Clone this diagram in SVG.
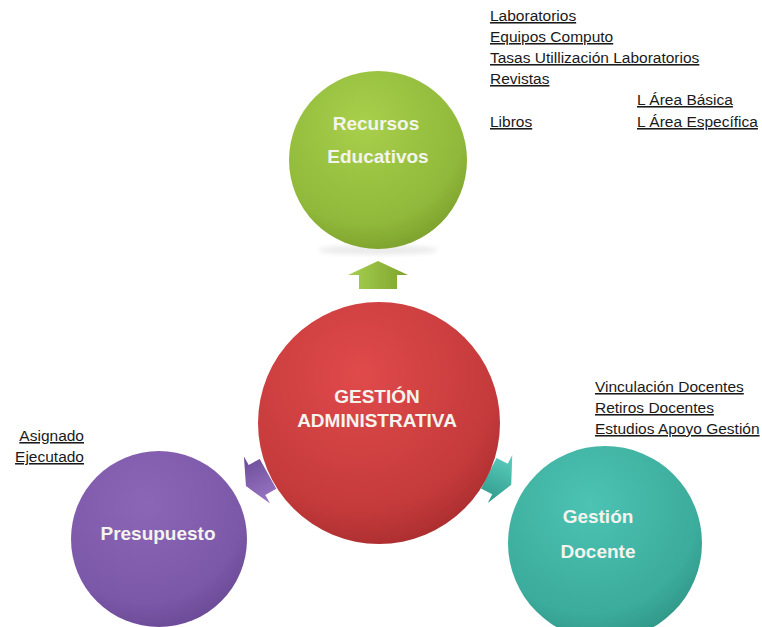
<svg xmlns="http://www.w3.org/2000/svg" width="762" height="627" viewBox="0 0 762 627">
  <defs>
    <radialGradient id="gGreen" cx="0.42" cy="0.3" r="0.75">
      <stop offset="0" stop-color="#a8d04c"/>
      <stop offset="0.75" stop-color="#90b83a"/>
      <stop offset="1" stop-color="#7a9e2c"/>
    </radialGradient>
    <radialGradient id="gRed" cx="0.42" cy="0.3" r="0.75">
      <stop offset="0" stop-color="#e04a4b"/>
      <stop offset="0.75" stop-color="#c43a3b"/>
      <stop offset="1" stop-color="#a82c2e"/>
    </radialGradient>
    <radialGradient id="gPurple" cx="0.42" cy="0.3" r="0.75">
      <stop offset="0" stop-color="#8c66b6"/>
      <stop offset="0.75" stop-color="#7c58a8"/>
      <stop offset="1" stop-color="#684894"/>
    </radialGradient>
    <radialGradient id="gTeal" cx="0.42" cy="0.3" r="0.75">
      <stop offset="0" stop-color="#4cc3b3"/>
      <stop offset="0.75" stop-color="#3cac9c"/>
      <stop offset="1" stop-color="#2e9486"/>
    </radialGradient>
    <linearGradient id="aGreen" x1="0" y1="0" x2="0" y2="1">
      <stop offset="0" stop-color="#a6d050"/>
      <stop offset="1" stop-color="#7fa32e"/>
    </linearGradient>
    <linearGradient id="aPurple" x1="0" y1="0" x2="0" y2="1">
      <stop offset="0" stop-color="#9b78c4"/>
      <stop offset="1" stop-color="#6a4a98"/>
    </linearGradient>
    <linearGradient id="aTeal" x1="0" y1="0" x2="0" y2="1">
      <stop offset="0" stop-color="#5ccfc0"/>
      <stop offset="1" stop-color="#2f9a8b"/>
    </linearGradient>
    <filter id="soft" x="-20%" y="-20%" width="140%" height="140%">
      <feGaussianBlur stdDeviation="2.5"/>
    </filter>
    <!-- block arrow pointing along +x, head base at origin -->
    <polygon id="blockArrow" points="-14,-19 0,-19 0,-30 14,0 0,30 0,19 -14,19"/>
  </defs>
  <style>
    .label { font-family: "Liberation Sans", Arial, sans-serif; font-size: 15.5px; fill: #1a1a1a; text-decoration: underline; }
    .node-text { font-family: "Liberation Sans", Arial, sans-serif; font-size: 19px; font-weight: bold; fill: #f4f4ee; text-anchor: middle; }
    .shadow { fill: #000; opacity: 0.08; filter: url(#soft); }
  </style>

  <rect width="762" height="627" fill="#ffffff"/>

  <!-- connectors: block arrows radiating from the centre -->
  <g id="connectors">
    <use href="#blockArrow" fill="url(#aGreen)" transform="translate(378,275) rotate(-90)"/>
    <use href="#blockArrow" fill="url(#aPurple)" transform="translate(257,480) rotate(151) scale(0.9)"/>
    <use href="#blockArrow" fill="url(#aTeal)" transform="translate(500,479) rotate(27) scale(0.9)"/>
  </g>

  <g id="node-recursos">
    <ellipse class="shadow" cx="378" cy="250" rx="60" ry="5"/>
    <circle cx="378" cy="160" r="89" fill="url(#gGreen)"/>
    <text class="node-text" x="376" y="130">Recursos</text>
    <text class="node-text" x="378" y="163">Educativos</text>
  </g>

  <g id="node-gestion-administrativa">
    <circle cx="379" cy="423" r="121" fill="url(#gRed)"/>
    <text class="node-text" x="377" y="403">GESTIÓN</text>
    <text class="node-text" x="377" y="427">ADMINISTRATIVA</text>
  </g>

  <g id="node-presupuesto">
    <circle cx="159" cy="539" r="88" fill="url(#gPurple)"/>
    <text class="node-text" x="158" y="540">Presupuesto</text>
  </g>

  <g id="node-gestion-docente">
    <circle cx="605" cy="543" r="97" fill="url(#gTeal)"/>
    <text class="node-text" x="598" y="523">Gestión</text>
    <text class="node-text" x="598" y="558">Docente</text>
  </g>

  <g id="notes-recursos">
    <text class="label" x="490" y="21">Laboratorios</text>
    <text class="label" x="490" y="42">Equipos Computo</text>
    <text class="label" x="490" y="63">Tasas Utillización Laboratorios</text>
    <text class="label" x="490" y="84">Revistas</text>
    <text class="label" x="637" y="105">L Área Básica</text>
    <text class="label" x="490" y="127">Libros</text>
    <text class="label" x="637" y="127">L Área Específica</text>
  </g>

  <g id="notes-presupuesto">
    <text class="label" x="84" y="441" text-anchor="end">Asignado</text>
    <text class="label" x="84" y="462" text-anchor="end">Ejecutado</text>
  </g>

  <g id="notes-docente">
    <text class="label" x="595" y="392">Vinculación Docentes</text>
    <text class="label" x="595" y="413">Retiros Docentes</text>
    <text class="label" x="595" y="434">Estudios Apoyo Gestión</text>
  </g>
</svg>
